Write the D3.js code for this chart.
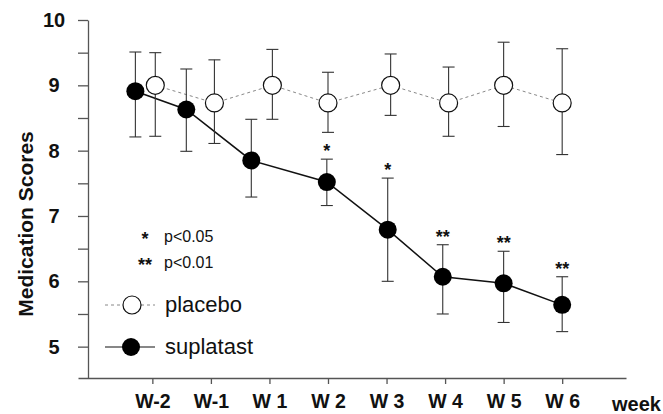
<!DOCTYPE html>
<html>
<head>
<meta charset="utf-8">
<script src="https://cdn.jsdelivr.net/npm/d3@7"></script>
<style>
  body { margin: 0; background: #fff; }
  svg { display: block; font-family: "Liberation Sans", Arial, sans-serif; }
  .axis path, .axis line { stroke: #555; stroke-width: 1.3; }
  .axis text { font-weight: bold; fill: #111; }
</style>
</head>
<body>
<svg id="chart"></svg>
<script>
const width = 663;
const height = 414;

// weeks on the x axis
const weeks = ["W-2", "W-1", "W 1", "W 2", "W 3", "W 4", "W 5", "W 6"];

// placebo: mean and error bar ends
const placeboMean  = [9.0, 8.73, 9.0, 8.73, 9.0, 8.73, 9.0, 8.73];
const placeboUpper = [9.5, 9.39, 9.55, 9.2, 9.48, 9.28, 9.66, 9.56];
const placeboLower = [8.22, 8.11, 8.48, 8.28, 8.54, 8.22, 8.37, 7.94];
const placeboShift = [0.05, 0.06, 0.05, 0, 0.07, 0.06, 0, 0];

// suplatast: mean and error bar ends
const suplatastMean  = [8.91, 8.63, 7.85, 7.52, 6.79, 6.07, 5.97, 5.64];
const suplatastUpper = [9.51, 9.25, 8.48, 7.87, 7.58, 6.56, 6.46, 6.07];
const suplatastLower = [8.21, 7.99, 7.29, 7.16, 6.0, 5.5, 5.37, 5.23];
const suplatastShift = [-0.29, -0.42, -0.31, -0.02, 0.02, -0.04, 0, 0];

const significance = ["", "", "", "*", "*", "**", "**", "**"];

const yMajor = [5, 6, 7, 8, 9, 10];
const yMinor = [5.5, 6.5, 7.5, 8.5, 9.5];

const svg = d3.select("#chart").attr("width", width).attr("height", height);

const x = d3.scaleLinear().domain([-1.27, 8.09]).range([78, 626]);
const y = d3.scaleLinear().domain([4.52, 10]).range([378, 20]);

// axes
svg.append("g")
  .attr("class", "axis")
  .attr("transform", "translate(0,378)")
  .call(d3.axisBottom(x).tickValues(d3.range(weeks.length)).tickSize(6).tickSizeOuter(0)
    .tickFormat(i => weeks[i]))
  .attr("font-family", null)
  .call(g => g.selectAll("text").attr("font-size", 19.5).attr("y", 16).attr("dy", "0.71em"));

svg.append("g")
  .attr("class", "axis")
  .attr("transform", "translate(88,0)")
  .call(d3.axisLeft(y).tickValues(yMajor.concat(yMinor)).tickSize(10).tickSizeOuter(0)
    .tickFormat(v => Number.isInteger(v) ? v : ""))
  .attr("font-family", null)
  .call(g => g.selectAll("text").attr("font-size", 20).attr("text-anchor", "middle").attr("x", -34));

svg.append("text")
  .attr("x", 612).attr("y", 411)
  .attr("font-size", 20).attr("font-weight", "bold").attr("fill", "#111")
  .text("week");

svg.append("text")
  .attr("transform", "translate(33,224) rotate(-90)")
  .attr("text-anchor", "middle")
  .attr("font-size", 21).attr("font-weight", "bold").attr("fill", "#111")
  .text("Medication Scores");

function series(mean, upper, lower, shift) {
  return mean.map((m, i) => ({ x: i + shift[i], mean: m, upper: upper[i], lower: lower[i], sig: significance[i] }));
}

const placebo = series(placeboMean, placeboUpper, placeboLower, placeboShift);
const suplatast = series(suplatastMean, suplatastUpper, suplatastLower, suplatastShift);

const line = d3.line().x(d => x(d.x)).y(d => y(d.mean));

svg.append("path")
  .datum(placebo)
  .attr("d", line)
  .attr("fill", "none")
  .attr("stroke", "#888")
  .attr("stroke-width", 1)
  .attr("stroke-dasharray", "3,3");

svg.append("path")
  .datum(suplatast)
  .attr("d", line)
  .attr("fill", "none")
  .attr("stroke", "#111")
  .attr("stroke-width", 1.5);

function errorBars(data, cls) {
  const g = svg.append("g").attr("class", cls).attr("stroke", "#333").attr("stroke-width", 1.1);
  g.selectAll("line.v").data(data).join("line")
    .attr("class", "v")
    .attr("x1", d => x(d.x)).attr("x2", d => x(d.x))
    .attr("y1", d => y(d.upper)).attr("y2", d => y(d.lower));
  g.selectAll("line.top").data(data).join("line")
    .attr("class", "top")
    .attr("x1", d => x(d.x) - 6).attr("x2", d => x(d.x) + 6)
    .attr("y1", d => y(d.upper)).attr("y2", d => y(d.upper));
  g.selectAll("line.bot").data(data).join("line")
    .attr("class", "bot")
    .attr("x1", d => x(d.x) - 6).attr("x2", d => x(d.x) + 6)
    .attr("y1", d => y(d.lower)).attr("y2", d => y(d.lower));
}

errorBars(placebo, "err-placebo");
errorBars(suplatast, "err-suplatast");

svg.selectAll("circle.placebo").data(placebo).join("circle")
  .attr("class", "placebo")
  .attr("cx", d => x(d.x)).attr("cy", d => y(d.mean)).attr("r", 9)
  .attr("fill", "#fff").attr("stroke", "#111").attr("stroke-width", 1.2);

svg.selectAll("circle.suplatast").data(suplatast).join("circle")
  .attr("class", "suplatast")
  .attr("cx", d => x(d.x)).attr("cy", d => y(d.mean)).attr("r", 9)
  .attr("fill", "#000");

svg.selectAll("text.sig").data(suplatast.filter(d => d.sig)).join("text")
  .attr("class", "sig")
  .attr("x", d => x(d.x)).attr("y", d => y(d.upper) - 2)
  .attr("text-anchor", "middle")
  .attr("font-size", 18).attr("font-weight", "bold").attr("fill", "#111")
  .text(d => d.sig);

// legend
const legend = svg.append("g");
[["*", "p<0.05", 242], ["**", "p<0.01", 268]].forEach(([s, t, ly]) => {
  legend.append("text").attr("x", 145).attr("y", ly + 3).attr("text-anchor", "middle")
    .attr("font-size", 18).attr("font-weight", "bold").attr("fill", "#111").text(s);
  legend.append("text").attr("x", 164).attr("y", ly)
    .attr("font-size", 16).attr("fill", "#111").text(t);
});

legend.append("line").attr("x1", 105).attr("x2", 155).attr("y1", 305).attr("y2", 305)
  .attr("stroke", "#888").attr("stroke-dasharray", "3,3");
legend.append("circle").attr("cx", 132).attr("cy", 305).attr("r", 9)
  .attr("fill", "#fff").attr("stroke", "#111").attr("stroke-width", 1.2);
legend.append("text").attr("x", 165).attr("y", 312)
  .attr("font-size", 22).attr("fill", "#111").text("placebo");

legend.append("line").attr("x1", 105).attr("x2", 155).attr("y1", 347).attr("y2", 347)
  .attr("stroke", "#111").attr("stroke-width", 1.2);
legend.append("circle").attr("cx", 131).attr("cy", 347).attr("r", 9).attr("fill", "#000");
legend.append("text").attr("x", 165).attr("y", 354)
  .attr("font-size", 22).attr("fill", "#111").text("suplatast");
</script>
</body>
</html>
